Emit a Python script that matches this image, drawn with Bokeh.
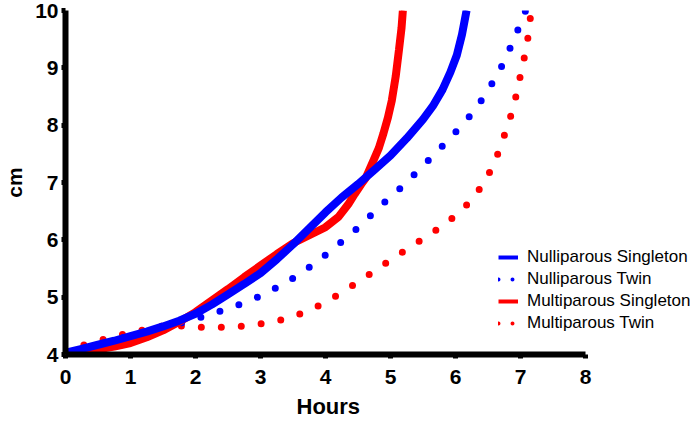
from bokeh.plotting import figure
from bokeh.models import Range1d, FixedTicker, Legend, LegendItem, Title
from bokeh.embed import file_html
from bokeh.resources import INLINE

# ---- data ----
hours_ticks = [0, 1, 2, 3, 4, 5, 6, 7, 8]
cm_ticks = [4, 5, 6, 7, 8, 9, 10]
series_names = ["Nulliparous Singleton", "Nulliparous Twin",
                "Multiparous Singleton", "Multiparous Twin"]

null_single_x = [0, 0.25, 0.5, 0.75, 1.0, 1.25, 1.5, 1.75, 2.0, 2.25, 2.5, 2.75, 3.0, 3.25, 3.5,
                 3.75, 4.0, 4.25, 4.5, 4.75, 5.0, 5.25, 5.5, 5.65, 5.8, 5.92, 6.02, 6.1, 6.17]
null_single_y = [4.03, 4.10, 4.17, 4.24, 4.32, 4.40, 4.49, 4.59, 4.71, 4.87, 5.05, 5.23, 5.42, 5.66, 5.92,
                 6.20, 6.48, 6.74, 6.97, 7.22, 7.47, 7.77, 8.10, 8.33, 8.62, 8.92, 9.22, 9.58, 10.0]

multi_single_x = [0, 0.25, 0.5, 0.75, 1.0, 1.25, 1.5, 1.75, 2.0, 2.25, 2.5, 2.75, 3.0, 3.25, 3.5,
                  3.75, 4.0, 4.2, 4.35, 4.45, 4.55, 4.62, 4.74, 4.82, 4.89, 4.96, 5.02, 5.08,
                  5.13, 5.17, 5.19]
multi_single_y = [4.03, 4.05, 4.09, 4.14, 4.20, 4.30, 4.42, 4.57, 4.74, 4.94, 5.14, 5.35, 5.55, 5.75, 5.94,
                  6.08, 6.22, 6.40, 6.62, 6.80, 6.97, 7.08, 7.39, 7.60, 7.85, 8.13, 8.43, 8.85,
                  9.31, 9.70, 10.0]

null_twin_x = [0, 0.5, 1.0, 1.5, 1.92, 2.22, 2.53, 2.84, 3.14, 3.43, 3.70, 3.96, 4.22, 4.47, 4.70,
               4.94, 5.18, 5.41, 5.65, 5.87, 6.10, 6.31, 6.49, 6.66, 6.80, 6.93, 7.05, 7.08]
null_twin_y = [4.03, 4.17, 4.33, 4.48, 4.59, 4.70, 4.81, 4.94, 5.10, 5.28, 5.48, 5.70, 5.94, 6.18, 6.43,
               6.69, 6.93, 7.19, 7.46, 7.72, 8.00, 8.28, 8.59, 8.91, 9.24, 9.58, 9.92, 10.0]

multi_twin_x = [0, 0.33, 0.64, 0.95, 1.28, 1.6, 1.93, 2.27, 2.59, 2.92, 3.25, 3.55, 3.86, 4.13, 4.40,
                4.68, 4.95, 5.23, 5.49, 5.77, 6.03, 6.26, 6.44, 6.60, 6.71, 6.82, 6.91, 6.98, 7.05,
                7.11, 7.15, 7.165]
multi_twin_y = [4.03, 4.19, 4.28, 4.37, 4.45, 4.52, 4.48, 4.47, 4.48, 4.52, 4.58, 4.68, 4.83, 5.00, 5.19,
                5.40, 5.61, 5.82, 6.01, 6.22, 6.45, 6.71, 7.00, 7.34, 7.69, 8.04, 8.40, 8.77, 9.13,
                9.49, 9.86, 10.0]

BLUE = "#0000ff"
RED = "#ff0000"
FONT = "Liberation Sans"

p = figure(width=692, height=425, output_backend="svg", toolbar_location=None,
           x_range=Range1d(0, 9.646), y_range=Range1d(4, 10),
           min_border_left=65, min_border_right=0, min_border_top=10, min_border_bottom=71)
p.outline_line_color = None
p.xgrid.visible = False
p.ygrid.visible = False
p.background_fill_color = "white"
p.border_fill_color = "white"

r_mt = p.line(multi_twin_x, multi_twin_y, line_color=RED, line_width=7,
              line_dash="0 20", line_cap="round")
r_nt = p.line(null_twin_x, null_twin_y, line_color=BLUE, line_width=7,
              line_dash="0 20", line_cap="round")

# legend key swatches: thinner strokes hidden beneath the matching-colour solid curves
k_ms = p.line(multi_single_x, multi_single_y, line_color=RED, line_width=4)
k_mt = p.line(multi_single_x, multi_single_y, line_color=RED, line_width=4,
              line_dash="0 14", line_cap="round")
r_ms = p.line(multi_single_x, multi_single_y, line_color=RED, line_width=8)
k_ns = p.line(null_single_x, null_single_y, line_color=BLUE, line_width=4)
k_nt = p.line(null_single_x, null_single_y, line_color=BLUE, line_width=4,
              line_dash="0 14", line_cap="round")
r_ns = p.line(null_single_x, null_single_y, line_color=BLUE, line_width=8)

for ax, ticks in ((p.xaxis[0], hours_ticks), (p.yaxis[0], cm_ticks)):
    ax.ticker = FixedTicker(ticks=ticks)
    ax.minor_tick_line_color = None
    ax.axis_line_width = 6
    ax.axis_line_color = "black"
    ax.major_tick_line_width = 5
    ax.major_tick_line_color = "black"
    ax.major_tick_in = 0
    ax.major_tick_out = 4
    ax.major_label_text_font = FONT
    ax.major_label_text_font_style = "bold"
    ax.major_label_text_font_size = "21px"
    ax.major_label_text_color = "black"
    ax.axis_label_text_font = FONT
    ax.axis_label_text_font_style = "bold"
    ax.axis_label_text_font_size = "21px"
    ax.axis_label_text_color = "black"

p.xaxis.bounds = (0, 8)
p.xaxis.major_label_standoff = 11
p.yaxis.axis_label = "cm"
p.yaxis.major_label_standoff = 3
p.yaxis.axis_label_standoff = 6

# x-axis title, centred under the 0-8 span of the axis
xtitle = Title(text="Hours", align="left", offset=231, standoff=11,
               text_font=FONT, text_font_style="bold", text_font_size="22px",
               text_color="black")
p.add_layout(xtitle, "below")

legend = Legend(items=[
    LegendItem(label=series_names[0], renderers=[k_ns]),
    LegendItem(label=series_names[1], renderers=[k_nt]),
    LegendItem(label=series_names[2], renderers=[k_ms]),
    LegendItem(label=series_names[3], renderers=[k_mt]),
], location=(433, 21))
legend.background_fill_alpha = 0
legend.border_line_alpha = 0
legend.padding = 0
legend.margin = 0
legend.spacing = 2
legend.glyph_width = 20
legend.glyph_height = 20
legend.label_height = 20
legend.label_standoff = 9
legend.label_text_font = FONT
legend.label_text_font_size = "17px"
legend.label_text_color = "black"
p.add_layout(legend, "center")

open("out.html", "w").write(file_html(p, INLINE))
